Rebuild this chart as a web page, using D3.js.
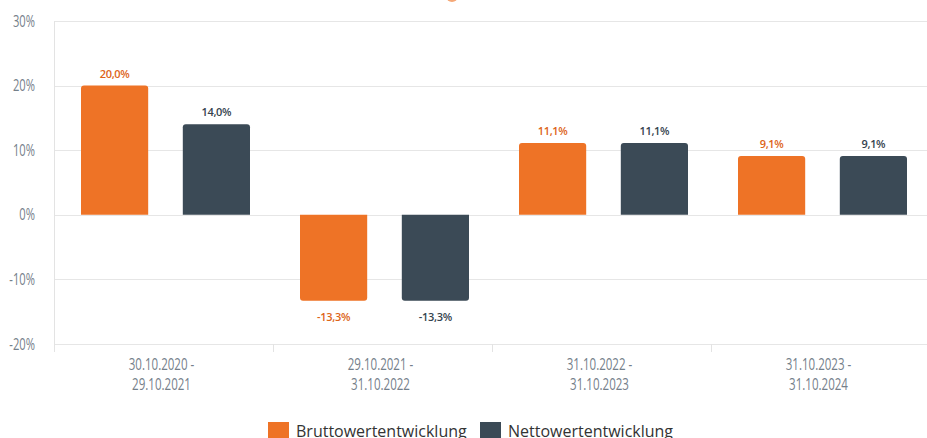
<!DOCTYPE html>
<html>
<head>
<meta charset="utf-8">
<script src="https://cdn.jsdelivr.net/npm/d3@7"></script>
<style>
  body { margin: 0; background: #fff; }
  svg { display: block; }
</style>
</head>
<body>
<svg id="chart"></svg>
<script>
const periods = [
    ['30.10.2020 -', '29.10.2021'],
    ['29.10.2021 -', '31.10.2022'],
    ['31.10.2022 -', '31.10.2023'],
    ['31.10.2023 -', '31.10.2024']
];
const series = ['Bruttowertentwicklung', 'Nettowertentwicklung'];
const brutto = [20.0, -13.3, 11.1, 9.1];
const netto = [14.0, -13.3, 11.1, 9.1];
const yTicks = [-20, -10, 0, 10, 20, 30];

const colors = {barBrutto: '#ee7326', barNetto: '#3b4a56', lblBrutto: '#dd6418', lblNetto: '#35434e'};

const width = 927, height = 438;
const margin = {top: 21, right: 0, bottom: 94, left: 54};
const innerW = width - margin.left - margin.right + 3;
const innerH = height - margin.top - margin.bottom;

const svg = d3.select('#chart').attr('width', width).attr('height', height);
const chart = svg.append('g').attr('transform', `translate(${margin.left},${margin.top})`);

const rows = periods.map((p, i) => ({i, values: [brutto[i], netto[i]]}));

const x0 = d3.scaleBand().domain(d3.range(periods.length)).range([0, innerW]).padding(0);
const x1 = d3.scaleBand().domain([0, 1]).range([27, 196]).paddingInner(0.34);
const y = d3.scaleLinear().domain([-20, 30]).range([innerH, 0]);

const axisFont = '"Open Sans", sans-serif';
const squeeze = 0.7; // the original axis font is a condensed face
const axisGrey = '#75808a';

// gridlines
chart.append('g')
    .selectAll('line')
    .data(yTicks)
    .join('line')
    .attr('x1', 0).attr('x2', innerW)
    .attr('y1', d => Math.round(y(d)) + 0.5).attr('y2', d => Math.round(y(d)) + 0.5)
    .attr('stroke', '#e6e6e6');

// left axis line
chart.append('line')
    .attr('x1', 0.5).attr('x2', 0.5)
    .attr('y1', 0).attr('y2', innerH + 8)
    .attr('stroke', '#e3e3e3');

// y tick labels
chart.append('g')
    .selectAll('text')
    .data(yTicks)
    .join('text')
    .attr('transform', d => `translate(-19,${y(d) + 5.5}) scale(${squeeze},1)`)
    .attr('text-anchor', 'end')
    .attr('fill', axisGrey)
    .style('font-family', axisFont)
    .style('font-size', '16px')
    .text(d => d + '%');

// category separators
chart.append('g')
    .selectAll('line')
    .data(d3.range(1, periods.length))
    .join('line')
    .attr('x1', d => Math.round(x0(d)) + 0.5).attr('x2', d => Math.round(x0(d)) + 0.5)
    .attr('y1', innerH).attr('y2', innerH + 8)
    .attr('stroke', '#e3e3e3');

// category labels
const cat = chart.append('g')
    .selectAll('text')
    .data(periods)
    .join('text')
    .attr('transform', (d, i) => `translate(${x0(i) + x0.bandwidth() / 2 - 2},${innerH + 26}) scale(${squeeze},1)`)
    .attr('text-anchor', 'middle')
    .attr('fill', axisGrey)
    .style('font-family', axisFont)
    .style('font-size', '16.5px');
cat.append('tspan').attr('x', 0).text(d => d[0]);
cat.append('tspan')
    .attr('x', 0)
    .attr('dy', 20)
    .text(d => d[1]);

function barPath(x, w, v) {
    const r = 3;
    const y0 = y(0), y1 = y(v);
    if (v >= 0) {
        return `M${x},${y0}V${y1 + r}Q${x},${y1} ${x + r},${y1}H${x + w - r}Q${x + w},${y1} ${x + w},${y1 + r}V${y0}Z`;
    }
    return `M${x},${y0}V${y1 - r}Q${x},${y1} ${x + r},${y1}H${x + w - r}Q${x + w},${y1} ${x + w},${y1 - r}V${y0}Z`;
}

const groups = chart.selectAll('.group')
    .data(rows)
    .join('g')
    .attr('class', 'group')
    .attr('transform', d => `translate(${x0(d.i)},0)`);

groups.selectAll('path')
    .data(d => d.values.map((v, s) => ({v, s})))
    .join('path')
    .attr('d', d => barPath(x1(d.s), x1.bandwidth(), d.v))
    .attr('fill', d => d.s === 0 ? colors.barBrutto : colors.barNetto);

groups.selectAll('text')
    .data(d => d.values.map((v, s) => ({v, s})))
    .join('text')
    .attr('x', d => x1(d.s) + x1.bandwidth() / 2)
    .attr('y', d => d.v >= 0 ? y(d.v) - 8 : y(d.v) + 20)
    .attr('text-anchor', 'middle')
    .attr('fill', d => d.s === 0 ? colors.lblBrutto : colors.lblNetto)
    .style('font-family', '"Open Sans", sans-serif')
    .style('font-size', '11px')
    .style('font-weight', 600)
    .style('letter-spacing', '-0.3px')
    .text(d => d3.format('.1f')(d.v).replace('.', ',').replace('−', '-') + '%');

// legend
const legend = svg.append('g').attr('transform', 'translate(268,422)');
const items = [
    {name: series[0], color: colors.barBrutto, x: 0},
    {name: series[1], color: colors.barNetto, x: 212}
];
const li = legend.selectAll('g')
    .data(items)
    .join('g')
    .attr('transform', d => `translate(${d.x},0)`);
li.append('rect')
    .attr('width', 21).attr('height', 18)
    .attr('fill', d => d.color);
li.append('text')
    .attr('x', 28).attr('y', 15)
    .attr('fill', '#333')
    .style('font-family', '"Open Sans", sans-serif')
    .style('font-size', '16px')
    .text(d => d.name);

// cut-off marker at the top
svg.append('circle')
    .attr('cx', 452).attr('cy', -4).attr('r', 6)
    .attr('fill', '#f5a877');
</script>
</body>
</html>
